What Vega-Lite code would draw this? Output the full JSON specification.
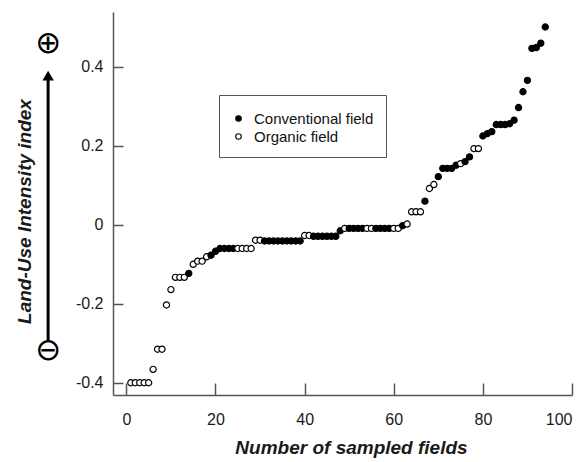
{
  "$schema": "https://vega.github.io/schema/vega-lite/v6.json",
  "width": 459,
  "height": 383,
  "autosize": {"type": "none"},
  "padding": {"left": 113, "top": 12, "right": 15, "bottom": 67},
  "background": "white",
  "config": {
    "view": {"stroke": null},
    "font": "Liberation Sans",
    "axis": {
      "grid": false,
      "domainColor": "#555555",
      "domainWidth": 1.5,
      "tickColor": "#555555",
      "tickWidth": 1.5,
      "labelFont": "Liberation Sans",
      "labelFontSize": 16,
      "labelColor": "#1a1a1a",
      "titleFont": "Liberation Sans",
      "titleFontStyle": "italic",
      "titleFontWeight": "bold",
      "titleColor": "#1a1a1a"
    }
  },
  "layer": [
    {
      "data": {
        "values": [
          {"n": 1, "lui": -0.400, "type": "Organic field"},
          {"n": 2, "lui": -0.400, "type": "Organic field"},
          {"n": 3, "lui": -0.400, "type": "Organic field"},
          {"n": 4, "lui": -0.400, "type": "Organic field"},
          {"n": 5, "lui": -0.400, "type": "Organic field"},
          {"n": 6, "lui": -0.366, "type": "Organic field"},
          {"n": 7, "lui": -0.315, "type": "Organic field"},
          {"n": 8, "lui": -0.315, "type": "Organic field"},
          {"n": 9, "lui": -0.203, "type": "Organic field"},
          {"n": 10, "lui": -0.164, "type": "Organic field"},
          {"n": 11, "lui": -0.133, "type": "Organic field"},
          {"n": 12, "lui": -0.133, "type": "Organic field"},
          {"n": 13, "lui": -0.133, "type": "Organic field"},
          {"n": 14, "lui": -0.123, "type": "Conventional field"},
          {"n": 15, "lui": -0.100, "type": "Organic field"},
          {"n": 16, "lui": -0.092, "type": "Organic field"},
          {"n": 17, "lui": -0.092, "type": "Organic field"},
          {"n": 18, "lui": -0.081, "type": "Organic field"},
          {"n": 19, "lui": -0.077, "type": "Conventional field"},
          {"n": 20, "lui": -0.067, "type": "Conventional field"},
          {"n": 21, "lui": -0.060, "type": "Conventional field"},
          {"n": 22, "lui": -0.060, "type": "Conventional field"},
          {"n": 23, "lui": -0.060, "type": "Conventional field"},
          {"n": 24, "lui": -0.060, "type": "Conventional field"},
          {"n": 25, "lui": -0.060, "type": "Organic field"},
          {"n": 26, "lui": -0.060, "type": "Organic field"},
          {"n": 27, "lui": -0.060, "type": "Organic field"},
          {"n": 28, "lui": -0.060, "type": "Organic field"},
          {"n": 29, "lui": -0.039, "type": "Organic field"},
          {"n": 30, "lui": -0.039, "type": "Organic field"},
          {"n": 31, "lui": -0.041, "type": "Conventional field"},
          {"n": 32, "lui": -0.041, "type": "Conventional field"},
          {"n": 33, "lui": -0.041, "type": "Conventional field"},
          {"n": 34, "lui": -0.041, "type": "Conventional field"},
          {"n": 35, "lui": -0.041, "type": "Conventional field"},
          {"n": 36, "lui": -0.041, "type": "Conventional field"},
          {"n": 37, "lui": -0.041, "type": "Conventional field"},
          {"n": 38, "lui": -0.041, "type": "Conventional field"},
          {"n": 39, "lui": -0.041, "type": "Conventional field"},
          {"n": 40, "lui": -0.027, "type": "Organic field"},
          {"n": 41, "lui": -0.027, "type": "Organic field"},
          {"n": 42, "lui": -0.029, "type": "Conventional field"},
          {"n": 43, "lui": -0.029, "type": "Conventional field"},
          {"n": 44, "lui": -0.029, "type": "Conventional field"},
          {"n": 45, "lui": -0.029, "type": "Conventional field"},
          {"n": 46, "lui": -0.029, "type": "Conventional field"},
          {"n": 47, "lui": -0.029, "type": "Conventional field"},
          {"n": 48, "lui": -0.015, "type": "Conventional field"},
          {"n": 49, "lui": -0.009, "type": "Organic field"},
          {"n": 50, "lui": -0.009, "type": "Conventional field"},
          {"n": 51, "lui": -0.009, "type": "Conventional field"},
          {"n": 52, "lui": -0.009, "type": "Conventional field"},
          {"n": 53, "lui": -0.009, "type": "Conventional field"},
          {"n": 54, "lui": -0.009, "type": "Organic field"},
          {"n": 55, "lui": -0.009, "type": "Organic field"},
          {"n": 56, "lui": -0.009, "type": "Conventional field"},
          {"n": 57, "lui": -0.009, "type": "Conventional field"},
          {"n": 58, "lui": -0.009, "type": "Conventional field"},
          {"n": 59, "lui": -0.009, "type": "Conventional field"},
          {"n": 60, "lui": -0.009, "type": "Organic field"},
          {"n": 61, "lui": -0.009, "type": "Organic field"},
          {"n": 62, "lui": -0.002, "type": "Conventional field"},
          {"n": 63, "lui": 0.002, "type": "Organic field"},
          {"n": 64, "lui": 0.033, "type": "Organic field"},
          {"n": 65, "lui": 0.033, "type": "Organic field"},
          {"n": 66, "lui": 0.033, "type": "Organic field"},
          {"n": 67, "lui": 0.060, "type": "Conventional field"},
          {"n": 68, "lui": 0.092, "type": "Organic field"},
          {"n": 69, "lui": 0.102, "type": "Organic field"},
          {"n": 70, "lui": 0.122, "type": "Conventional field"},
          {"n": 71, "lui": 0.143, "type": "Conventional field"},
          {"n": 72, "lui": 0.143, "type": "Conventional field"},
          {"n": 73, "lui": 0.143, "type": "Conventional field"},
          {"n": 74, "lui": 0.151, "type": "Conventional field"},
          {"n": 75, "lui": 0.155, "type": "Organic field"},
          {"n": 76, "lui": 0.160, "type": "Conventional field"},
          {"n": 77, "lui": 0.172, "type": "Conventional field"},
          {"n": 78, "lui": 0.193, "type": "Organic field"},
          {"n": 79, "lui": 0.193, "type": "Organic field"},
          {"n": 80, "lui": 0.225, "type": "Conventional field"},
          {"n": 81, "lui": 0.231, "type": "Conventional field"},
          {"n": 82, "lui": 0.236, "type": "Conventional field"},
          {"n": 83, "lui": 0.254, "type": "Conventional field"},
          {"n": 84, "lui": 0.254, "type": "Conventional field"},
          {"n": 85, "lui": 0.254, "type": "Conventional field"},
          {"n": 86, "lui": 0.256, "type": "Conventional field"},
          {"n": 87, "lui": 0.265, "type": "Conventional field"},
          {"n": 88, "lui": 0.297, "type": "Conventional field"},
          {"n": 89, "lui": 0.337, "type": "Conventional field"},
          {"n": 90, "lui": 0.366, "type": "Conventional field"},
          {"n": 91, "lui": 0.447, "type": "Conventional field"},
          {"n": 92, "lui": 0.449, "type": "Conventional field"},
          {"n": 93, "lui": 0.460, "type": "Conventional field"},
          {"n": 94, "lui": 0.501, "type": "Conventional field"}
        ]
      },
      "mark": {"type": "point", "shape": "circle", "filled": true, "stroke": "black", "strokeWidth": 1.2, "size": 38, "opacity": 1},
      "encoding": {
        "x": {
          "field": "n", "type": "quantitative",
          "scale": {"domain": [-3, 100], "nice": false, "zero": false},
          "axis": {
            "values": [0, 20, 40, 60, 80, 100],
            "format": "d",
            "tickSize": -12,
            "labelPadding": 28,
            "title": "Number of sampled fields",
            "titleFontSize": 19,
            "titleX": 238,
            "titleY": 52,
            "titleBaseline": "middle"
          }
        },
        "y": {
          "field": "lui", "type": "quantitative",
          "scale": {"domain": [-0.431, 0.539], "nice": false, "zero": false},
          "axis": {
            "values": [-0.4, -0.2, 0, 0.2, 0.4],
            "labelExpr": "toString(datum.value)",
            "tickSize": -10,
            "labelPadding": 20,
            "title": "Land-Use Intensity index",
            "titleFontSize": 19,
            "titleX": -89,
            "titleY": 199,
            "titleBaseline": "middle"
          }
        },
        "fill": {
          "field": "type", "type": "nominal",
          "scale": {"domain": ["Conventional field", "Organic field"], "range": ["black", "white"]},
          "legend": {
            "title": " ",
            "titleFontSize": 4,
            "titlePadding": 0,
            "orient": "none",
            "legendX": 106,
            "legendY": 83,
            "strokeColor": "#555555",
            "padding": 12,
            "rowPadding": 2,
            "labelFont": "Liberation Sans",
            "labelFontSize": 15,
            "labelColor": "#111111",
            "labelOffset": 8,
            "symbolType": "circle",
            "symbolSize": 30,
            "symbolStrokeColor": "black",
            "symbolStrokeWidth": 1.1
          }
        }
      }
    },
    {
      "data": {"values": [{}]},
      "mark": {"type": "rule", "strokeWidth": 3, "color": "black"},
      "encoding": {
        "x": {"datum": -17.56},
        "y": {"datum": -0.292},
        "y2": {"datum": 0.37}
      }
    },
    {
      "data": {"values": [{}]},
      "mark": {"type": "point", "shape": "triangle-up", "filled": true, "color": "black", "size": 130, "opacity": 1},
      "encoding": {
        "x": {"datum": -17.56},
        "y": {"datum": 0.378}
      }
    },
    {
      "data": {"values": [{}]},
      "mark": {"type": "text", "text": "⊕", "font": "DejaVu Sans", "fontSize": 31, "align": "center", "baseline": "middle", "color": "black"},
      "encoding": {
        "x": {"datum": -17.56},
        "y": {"datum": 0.4575}
      }
    },
    {
      "data": {"values": [{}]},
      "mark": {"type": "text", "text": "⊖", "font": "DejaVu Sans", "fontSize": 31, "align": "center", "baseline": "middle", "color": "black"},
      "encoding": {
        "x": {"datum": -17.56},
        "y": {"datum": -0.3197}
      }
    }
  ]
}
